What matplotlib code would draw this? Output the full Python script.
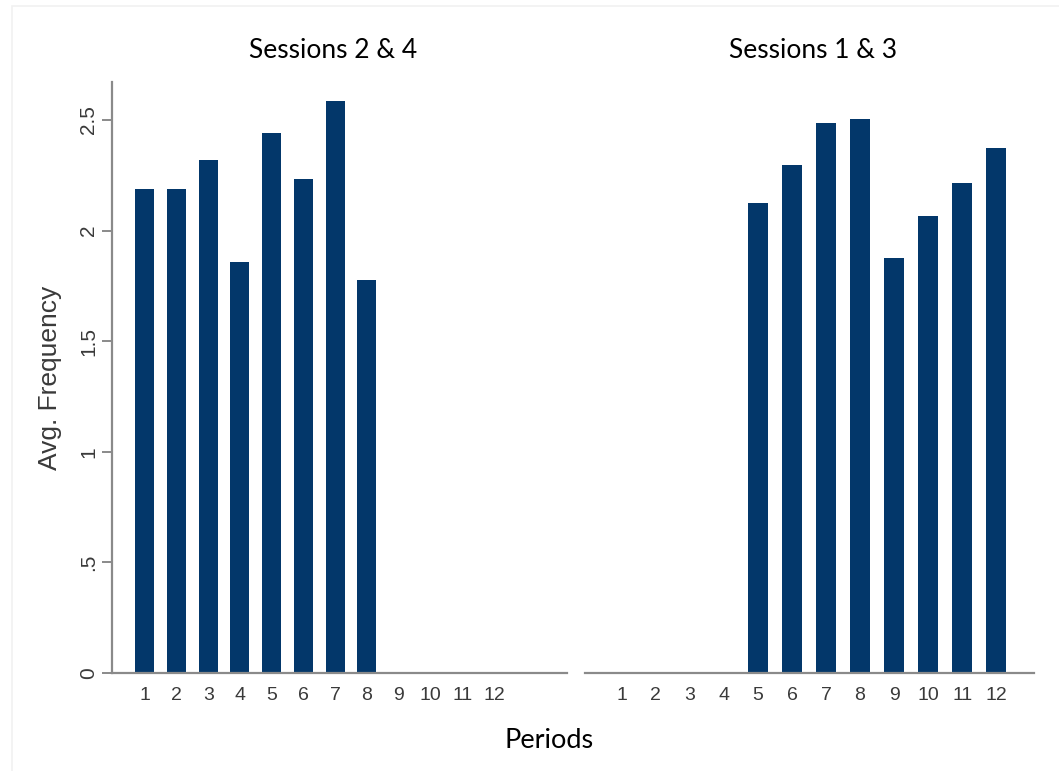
import numpy as np
import matplotlib
matplotlib.use("Agg")
from matplotlib import pyplot as plt
from matplotlib.patches import Rectangle

# average frequency per period, by session group
periods = list(range(1, 13))
sessions_24 = [2.19, 2.19, 2.32, 1.86, 2.44, 2.235, 2.585, 1.775, 0, 0, 0, 0]
sessions_13 = [0, 0, 0, 0, 2.125, 2.295, 2.485, 2.505, 1.875, 2.065, 2.215, 2.375]
panel_titles = ["Sessions 2 & 4", "Sessions 1 & 3"]
ytick_vals = [0, 0.5, 1, 1.5, 2, 2.5]
ytick_labels = ["0", ".5", "1", "1.5", "2", "2.5"]

bar_color = "#03376a"
axis_gray = "#8a8a8a"
text_gray = "#3a3a3a"

W, H = 1059, 771
fig = plt.figure(figsize=(W / 100, H / 100), dpi=100)
fig.patch.set_facecolor("white")

# faint frame around the exported graph
fig.patches.append(Rectangle((12 / W, -0.01), 1.02, 1 - 6 / H + 0.01,
                             transform=fig.transFigure, fill=False,
                             edgecolor="#f1f1f1", linewidth=1.2))

def fx(px):
    return px / W

def fy(py):
    return 1 - py / H

ax1 = fig.add_axes([fx(112), fy(673), fx(567) - fx(112), fy(82) - fy(673)])
ax2 = fig.add_axes([fx(585), fy(673), fx(1034) - fx(585), fy(82) - fy(673)])

for ax, vals, xl in [(ax1, sessions_24, (-0.03, 14.3)), (ax2, sessions_13, (-0.08, 13.11))]:
    ax.bar(periods, vals, width=0.6, color=bar_color, edgecolor="none")
    ax.set_xlim(*xl)
    ax.set_ylim(0, 2.672)
    for s in ["top", "right"]:
        ax.spines[s].set_visible(False)
    ax.spines["bottom"].set_color(axis_gray)
    ax.spines["bottom"].set_linewidth(1.6)
    ax.spines["left"].set_color(axis_gray)
    ax.spines["left"].set_linewidth(1.6)
    ax.set_xticks(periods)
    ax.set_xticklabels([str(p) for p in periods], family="Liberation Sans",
                       fontsize=14, color=text_gray)
    ax.tick_params(axis="x", length=0, pad=10)
    ax.patch.set_visible(False)

ax1.set_yticks(ytick_vals)
ax1.set_yticklabels(ytick_labels, family="Liberation Sans", fontsize=15,
                    color=text_gray, rotation=90, va="center")
ax1.tick_params(axis="y", length=7, width=1.4, color=axis_gray, pad=3)
ax1.set_ylabel("Avg. Frequency", family="Liberation Sans", fontsize=19,
               color=text_gray, labelpad=12)

ax2.spines["left"].set_visible(False)
ax2.set_yticks([])

fig.text(fx(333), fy(51), panel_titles[0], family="Lato", fontsize=19,
         ha="center", va="center", color="black")
fig.text(fx(813), fy(51), panel_titles[1], family="Lato", fontsize=19,
         ha="center", va="center", color="black")
fig.text(fx(549), fy(741), "Periods", family="Lato", fontsize=19.5,
         ha="center", va="center", color="black")

fig.savefig("out.png", dpi=100)
